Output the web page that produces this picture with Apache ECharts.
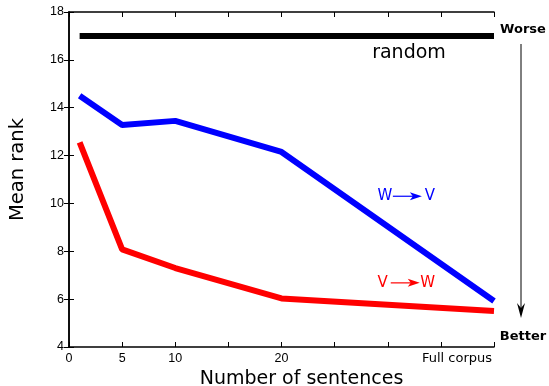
<!DOCTYPE html>
<html><head><meta charset="utf-8">
<script src="https://cdn.jsdelivr.net/npm/echarts@6/dist/echarts.min.js"></script>
<style>html,body{margin:0;padding:0;background:#fff}#c{width:549px;height:386px}</style>
</head><body><div id="c"></div>
<script>
var xValues = [1, 5, 10, 20, 40];
var wToV = [14.5, 13.28, 13.45, 12.15, 5.92];
var vToW = [12.55, 8.08, 7.3, 6.03, 5.5];
var randomX = [1, 40];
var randomY = [17, 17];
var xTickLabels = {0: '0', 5: '5', 10: '10', 20: '20', 40: 'Full corpus'};
var yTicks = [4, 6, 8, 10, 12, 14, 16, 18];

var F = 'DejaVu Sans';
var FT = 'Liberation Sans';
function pairs(xs, ys){ return xs.map(function(x,i){return [x, ys[i]];}); }
var chart = echarts.init(document.getElementById('c'), null, {renderer:'canvas'});
var axisLine = {show:true, lineStyle:{color:'#000', width:1.5}};
chart.setOption({
  animation:false,
  backgroundColor:'#fff',
  grid:{left:69, right:55, top:12, bottom:39, containLabel:false, outerBoundsMode:'none'},
  xAxis:[{
    type:'value', min:0, max:40, interval:5, position:'bottom',
    axisLine:axisLine, splitLine:{show:false},
    axisTick:{show:true, inside:true, length:5, lineStyle:{color:'#000', width:1}},
    axisLabel:{color:'#000', fontFamily:FT, fontSize:12.5, margin:5, alignMaxLabel:'right',
      formatter:function(v){
        if (v === 40) return '{fc|' + xTickLabels[v] + '}';
        return xTickLabels[v] !== undefined ? xTickLabels[v] : '';
      },
      rich:{fc:{fontFamily:F, fontSize:13, color:'#000', padding:[0,2,0,0]}}},
    name:'Number of sentences', nameLocation:'middle', nameGap:20,
    nameTextStyle:{color:'#000', fontFamily:F, fontSize:19, padding:[0,0,0,40]}
  },{
    type:'value', min:0, max:40, interval:5, position:'top',
    axisLine:axisLine, splitLine:{show:false},
    axisTick:{show:true, inside:true, length:5, lineStyle:{color:'#000', width:1}},
    axisLabel:{show:false}
  }],
  yAxis:[{
    type:'value', min:4, max:18, interval:2, position:'left',
    axisLine:axisLine, splitLine:{show:false},
    axisTick:{show:true, inside:true, length:5, lineStyle:{color:'#000', width:1}},
    axisLabel:{color:'#000', fontFamily:FT, fontSize:12.5, margin:5},
    name:'Mean rank', nameLocation:'middle', nameGap:41, nameRotate:90,
    nameTextStyle:{color:'#000', fontFamily:F, fontSize:19.5, padding:[0,0,0,20]}
  },{
    type:'value', min:4, max:18, interval:2, position:'right',
    axisLine:axisLine, splitLine:{show:false},
    axisTick:{show:true, inside:true, length:5, lineStyle:{color:'#000', width:1}},
    axisLabel:{show:false}
  }],
  series:[
    {type:'line', data:pairs(randomX, randomY), showSymbol:false, lineStyle:{color:'#000', width:6}, z:3},
    {type:'line', data:pairs(xValues, wToV), showSymbol:false, lineStyle:{color:'#0000ff', width:6}, z:4},
    {type:'line', data:pairs(xValues, vToW), showSymbol:false, lineStyle:{color:'#ff0000', width:6}, z:5}
  ]
});

function px(x,y){ return chart.convertToPixel({gridIndex:0}, [x,y]); }
var pRand = px(32, 16.3);
var pWV = px(31.8, 10.3);
var pVW = px(31.6, 6.68);
function arrowLabel(p, left, right, color){
  return {type:'group', x:p[0], y:p[1], children:[
    {type:'text', x:-22, y:0, style:{text:left, fill:color, font:'15px '+F, textAlign:'center', textVerticalAlign:'middle'}},
    {type:'line', shape:{x1:-14, y1:0, x2:10, y2:0}, style:{stroke:color, lineWidth:1.2}},
    {type:'polygon', shape:{points:[[15,0],[3,-4],[6,0],[3,4]]}, style:{fill:color}},
    {type:'text', x:23, y:0, style:{text:right, fill:color, font:'15px '+F, textAlign:'center', textVerticalAlign:'middle'}}
  ]};
}
chart.setOption({graphic:[
  {type:'text', x:pRand[0], y:pRand[1], style:{text:'random', fill:'#000', font:'19px '+F, textAlign:'center', textVerticalAlign:'middle'}},
  arrowLabel(pWV, 'W', 'V', '#0000ff'),
  arrowLabel(pVW, 'V', 'W', '#ff0000'),
  {type:'text', x:523, y:30, style:{text:'Worse', fill:'#000', font:'bold 13px '+F, textAlign:'center', textVerticalAlign:'middle'}},
  {type:'text', x:523, y:337, style:{text:'Better', fill:'#000', font:'bold 13px '+F, textAlign:'center', textVerticalAlign:'middle'}},
  {type:'line', shape:{x1:521, y1:44, x2:521, y2:308}, style:{stroke:'#000', lineWidth:1}},
  {type:'polygon', shape:{points:[[521,318],[517,303],[521,308],[525,303]]}, style:{fill:'#000'}}
]});
</script></body></html>
